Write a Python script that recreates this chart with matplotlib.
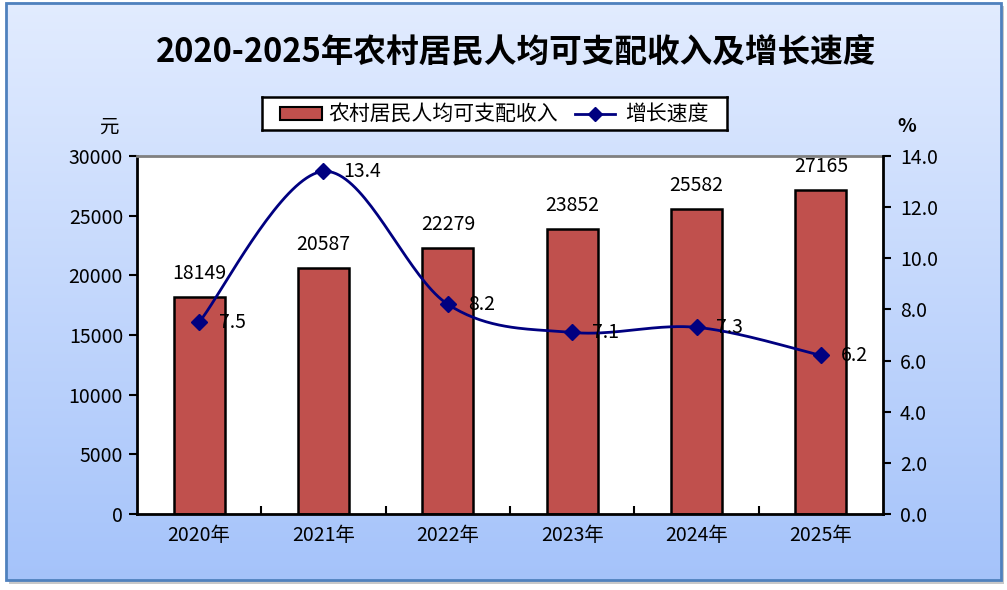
import numpy as np
import matplotlib
matplotlib.use("Agg")
import matplotlib.pyplot as plt
from matplotlib.patches import Rectangle
from matplotlib.ticker import MultipleLocator, FixedLocator, FormatStrFormatter

plt.rcParams['font.family'] = ['Noto Sans CJK SC', 'DejaVu Sans']

# data
years = ['2020年', '2021年', '2022年', '2023年', '2024年', '2025年']
income = [18149, 20587, 22279, 23852, 25582, 27165]
growth = [7.5, 13.4, 8.2, 7.1, 7.3, 6.2]

bar_color = '#C0504D'
line_color = '#000080'
fs = 14


def smooth_curve(xs, ys, n=40):
    # courbe lissee facon Excel (Bezier type Catmull-Rom)
    px = np.array(xs, dtype=float)
    py = np.array(ys, dtype=float)
    m = len(px)
    outx, outy = [], []
    for i in range(m - 1):
        i0 = max(i - 1, 0)
        i3 = min(i + 2, m - 1)
        p0 = np.array([px[i], py[i]])
        p3 = np.array([px[i + 1], py[i + 1]])
        c1 = p0 + (np.array([px[i + 1], py[i + 1]]) - np.array([px[i0], py[i0]])) / 6
        c2 = p3 - (np.array([px[i3], py[i3]]) - np.array([px[i], py[i]])) / 6
        t = np.linspace(0, 1, n)[:, None]
        pts = (1 - t) ** 3 * p0 + 3 * (1 - t) ** 2 * t * c1 + 3 * (1 - t) * t ** 2 * c2 + t ** 3 * p3
        outx.extend(pts[:, 0])
        outy.extend(pts[:, 1])
    return outx, outy


fig = plt.figure(figsize=(10.07, 5.90), dpi=100)

# fond degrade
bg = fig.add_axes([0, 0, 1, 1], zorder=-10)
bg.set_xlim(0, 1)
bg.set_ylim(0, 1)
bg.axis('off')
bg.add_patch(Rectangle((0.009, 0.011), 0.988, 0.978, facecolor='#C8C8C8', edgecolor='none', zorder=0))
grad = np.linspace(0, 1, 256)[:, None]
top = np.array([0.886, 0.925, 1.0])
bot = np.array([0.647, 0.765, 0.980])
img = top[None, None, :] * (1 - grad[:, :, None]) + bot[None, None, :] * grad[:, :, None]
bg.imshow(img, extent=[0.006, 0.994, 0.017, 0.995], aspect='auto', zorder=1)
bg.add_patch(Rectangle((0.006, 0.017), 0.988, 0.978, facecolor='none',
                       edgecolor='#4F81BD', linewidth=2, zorder=2))

ax = fig.add_axes([0.136, 0.1288, 0.741, 0.6068])
ax.set_facecolor('white')
x = np.arange(len(years))
ax.bar(x, income, width=0.41, color=bar_color, edgecolor='black', linewidth=1.8, zorder=2)
ax.set_xlim(-0.5, len(years) - 0.5)
ax.set_ylim(0, 30000)
ax.yaxis.set_major_locator(MultipleLocator(5000))
ax.set_xticks(x)
ax.set_xticklabels(years, fontsize=fs)
ax.xaxis.set_minor_locator(FixedLocator(np.arange(0.5, len(years) - 1, 1)))
ax.tick_params(axis='x', which='major', length=0, pad=8)
ax.tick_params(axis='x', which='minor', direction='in', length=6, width=1.5)
ax.tick_params(axis='y', direction='out', length=6, width=1.5, labelsize=fs, pad=4)
for s in ['left', 'bottom']:
    ax.spines[s].set_linewidth(2)
ax.spines['top'].set_color('#808080')
ax.spines['top'].set_linewidth(2)
ax.spines['right'].set_visible(False)

for xi, v in zip(x, income):
    ax.text(xi, v + 1100, str(v), ha='center', va='bottom', fontsize=fs, zorder=5)

ax2 = ax.twinx()
ax2.set_ylim(0, 14)
ax2.yaxis.set_major_locator(MultipleLocator(2))
ax2.yaxis.set_major_formatter(FormatStrFormatter('%.1f'))
ax2.tick_params(axis='y', direction='out', length=6, width=1.5, labelsize=fs, pad=6)
ax2.spines['right'].set_linewidth(2)
for s in ['top', 'left', 'bottom']:
    ax2.spines[s].set_visible(False)

sx, sy = smooth_curve(x, growth)
ax2.plot(sx, sy, color=line_color, linewidth=2, zorder=3)
ax2.plot(x, growth, linestyle='none', marker='D', markersize=8, color=line_color, zorder=4)
for xi, v in zip(x, growth):
    ax2.text(xi + 0.16, v, '%.1f' % v, ha='left', va='center', fontsize=fs, zorder=5)

fig.text(0.512, 0.912, '2020-2025年农村居民人均可支配收入及增长速度', ha='center', va='center',
         fontsize=23.5, fontweight='bold')
fig.text(0.108, 0.785, '元', ha='center', va='center', fontsize=fs)
fig.text(0.900, 0.785, '%', ha='center', va='center', fontsize=fs, fontweight='bold')

# legende
lx0, ly0 = 262 / 1007, 1 - 130 / 590
lax = fig.add_axes([lx0, ly0, (727 - 262) / 1007, 33 / 590])
lax.set_xlim(0, 465)
lax.set_ylim(0, 33)
lax.set_xticks([])
lax.set_yticks([])
for s in lax.spines.values():
    s.set_linewidth(1.8)
lax.add_patch(Rectangle((18, 10), 42, 13, facecolor=bar_color, edgecolor='black', linewidth=1.5))
lax.text(66, 16.5, '农村居民人均可支配收入', va='center', ha='left', fontsize=15)
lax.plot([313, 353], [16.5, 16.5], color=line_color, linewidth=2)
lax.plot([333], [16.5], marker='D', markersize=7, color=line_color)
lax.text(363, 16.5, '增长速度', va='center', ha='left', fontsize=15)

fig.savefig('out.png', dpi=100)
